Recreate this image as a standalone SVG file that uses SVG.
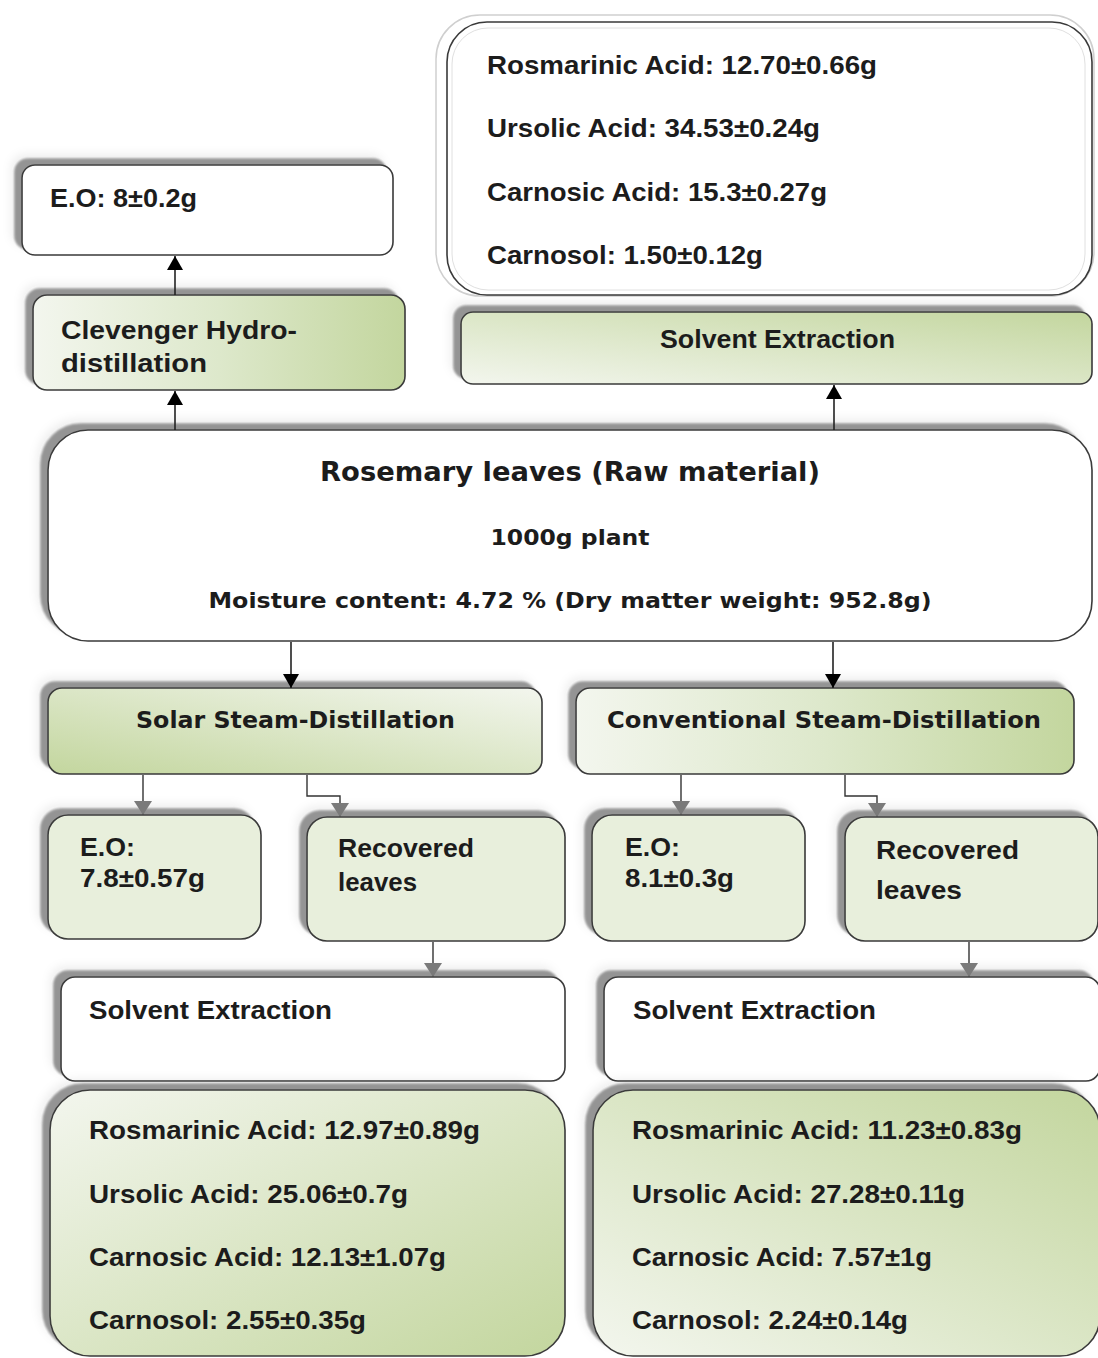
<svg xmlns="http://www.w3.org/2000/svg" width="1098" height="1358" viewBox="0 0 1098 1358">
<style>
.box{stroke:#3a3a3a;stroke-width:1.6}
.c{font-family:"Liberation Sans",Arial,sans-serif;font-weight:bold;font-size:25px;fill:#1c1c1c}
.v{font-family:"DejaVu Sans",Verdana,sans-serif;font-weight:bold;fill:#1c1c1c}
.ln{fill:none;stroke:#222;stroke-width:1.6}
.lg{fill:none;stroke:#333;stroke-width:1.4}
</style>
<defs>
<filter id="sh" x="-10%" y="-25%" width="125%" height="150%">
<feGaussianBlur in="SourceAlpha" stdDeviation="5" result="b1"/>
<feOffset in="b1" dx="-10" dy="-10" result="o1"/>
<feFlood flood-color="#000" flood-opacity="0.07"/>
<feComposite in2="o1" operator="in" result="halo"/>
<feGaussianBlur in="SourceAlpha" stdDeviation="1.2" result="b2"/>
<feOffset in="b2" dx="-7" dy="-6" result="o2"/>
<feFlood flood-color="#8a8a8a" flood-opacity="0.9"/>
<feComposite in2="o2" operator="in" result="dark"/>
<feMerge><feMergeNode in="halo"/><feMergeNode in="dark"/><feMergeNode in="SourceGraphic"/></feMerge>
</filter>
<linearGradient id="gH" x1="0" y1="0" x2="1" y2="0">
<stop offset="0" stop-color="#f3f6ee"/><stop offset="0.5" stop-color="#dde8cb"/><stop offset="1" stop-color="#c3d69e"/>
</linearGradient>
<linearGradient id="gLB" x1="0" y1="1" x2="1" y2="0">
<stop offset="0" stop-color="#f3f6ee"/><stop offset="1" stop-color="#c3d69e"/>
</linearGradient>
<linearGradient id="gGB" x1="0" y1="1" x2="1" y2="0">
<stop offset="0" stop-color="#c3d69e"/><stop offset="1" stop-color="#f3f6ee"/>
</linearGradient>
<linearGradient id="gTL" x1="0" y1="0" x2="1" y2="1">
<stop offset="0" stop-color="#f3f6ee"/><stop offset="1" stop-color="#c3d69e"/>
</linearGradient>
<marker id="aB" markerUnits="userSpaceOnUse" markerWidth="16" markerHeight="16" refX="14" refY="8" orient="auto">
<path d="M0,0 L14,8 L0,16 z" fill="#000"/>
</marker>
<marker id="aG" markerUnits="userSpaceOnUse" markerWidth="15" markerHeight="18" refX="14" refY="9" orient="auto">
<path d="M0,0 L14,9 L0,18 z" fill="#7a7a7a"/>
</marker>
</defs>
<rect width="1098" height="1358" fill="#fff"/>

<g id="eo-clevenger">
<rect class="box" x="22" y="165" width="371" height="90" rx="13" fill="#fff" filter="url(#sh)"/>
<text class="c" x="50" y="207" textLength="147" lengthAdjust="spacingAndGlyphs">E.O: 8±0.2g</text>
</g>

<g id="clevenger">
<rect class="box" x="33" y="295" width="372" height="95" rx="14" fill="url(#gH)" filter="url(#sh)"/>
<text class="c" x="61" y="339" textLength="236" lengthAdjust="spacingAndGlyphs">Clevenger Hydro-</text>
<text class="c" x="61" y="372" textLength="146" lengthAdjust="spacingAndGlyphs">distillation</text>
</g>

<g id="results-top">
<rect x="436" y="15" width="658" height="281" rx="44" fill="#fff" stroke="#cfcfcf" stroke-width="1.5"/>
<rect class="box" x="447" y="22" width="645" height="273" rx="40" fill="#fff"/>
<rect x="452" y="28" width="633" height="262" rx="36" fill="none" stroke="#e0e0e0" stroke-width="1"/>
<text class="c" x="487" y="74" textLength="390" lengthAdjust="spacingAndGlyphs">Rosmarinic Acid: 12.70±0.66g</text>
<text class="c" x="487" y="137" textLength="333" lengthAdjust="spacingAndGlyphs">Ursolic Acid: 34.53±0.24g</text>
<text class="c" x="487" y="201" textLength="340" lengthAdjust="spacingAndGlyphs">Carnosic Acid: 15.3±0.27g</text>
<text class="c" x="487" y="264" textLength="276" lengthAdjust="spacingAndGlyphs">Carnosol: 1.50±0.12g</text>
</g>

<g id="solvent-top">
<rect class="box" x="461" y="312" width="631" height="72" rx="12" fill="url(#gLB)" filter="url(#sh)"/>
<text class="c" x="660" y="348" textLength="235" lengthAdjust="spacingAndGlyphs">Solvent Extraction</text>
</g>

<g id="raw">
<rect class="box" x="48" y="430" width="1044" height="211" rx="40" fill="#fff" filter="url(#sh)"/>
<text class="v" x="570" y="481" font-size="26" text-anchor="middle" textLength="500" lengthAdjust="spacingAndGlyphs">Rosemary leaves (Raw material)</text>
<text class="v" x="570" y="545" font-size="22" text-anchor="middle" textLength="159" lengthAdjust="spacingAndGlyphs">1000g plant</text>
<text class="v" x="570" y="608" font-size="22" text-anchor="middle" textLength="723" lengthAdjust="spacingAndGlyphs">Moisture content: 4.72 % (Dry matter weight: 952.8g)</text>
</g>

<g id="solar">
<rect class="box" x="48" y="688" width="494" height="86" rx="14" fill="url(#gGB)" filter="url(#sh)"/>
<text class="v" x="136" y="728" font-size="23" textLength="319" lengthAdjust="spacingAndGlyphs">Solar Steam-Distillation</text>
</g>

<g id="conventional">
<rect class="box" x="576" y="688" width="498" height="86" rx="14" fill="url(#gH)" filter="url(#sh)"/>
<text class="v" x="607" y="728" font-size="23" textLength="434" lengthAdjust="spacingAndGlyphs">Conventional Steam-Distillation</text>
</g>

<g id="eo-solar">
<rect class="box" x="48" y="815" width="213" height="124" rx="20" fill="#e8efdc" filter="url(#sh)"/>
<text class="c" x="80" y="856" textLength="55" lengthAdjust="spacingAndGlyphs">E.O:</text>
<text class="c" x="80" y="887" textLength="125" lengthAdjust="spacingAndGlyphs">7.8±0.57g</text>
</g>

<g id="leaves-solar">
<rect class="box" x="307" y="817" width="258" height="124" rx="20" fill="#e8efdc" filter="url(#sh)"/>
<text class="c" x="338" y="857" textLength="136" lengthAdjust="spacingAndGlyphs">Recovered</text>
<text class="c" x="338" y="891" textLength="79" lengthAdjust="spacingAndGlyphs">leaves</text>
</g>

<g id="eo-conv">
<rect class="box" x="592" y="815" width="213" height="126" rx="20" fill="#e8efdc" filter="url(#sh)"/>
<text class="c" x="625" y="856" textLength="55" lengthAdjust="spacingAndGlyphs">E.O:</text>
<text class="c" x="625" y="887" textLength="109" lengthAdjust="spacingAndGlyphs">8.1±0.3g</text>
</g>

<g id="leaves-conv">
<rect class="box" x="845" y="817" width="253" height="124" rx="20" fill="#e8efdc" filter="url(#sh)"/>
<text class="c" x="876" y="859" textLength="143" lengthAdjust="spacingAndGlyphs">Recovered</text>
<text class="c" x="876" y="899" textLength="86" lengthAdjust="spacingAndGlyphs">leaves</text>
</g>

<g id="solvent-solar">
<rect class="box" x="61" y="977" width="504" height="104" rx="14" fill="#fff" filter="url(#sh)"/>
<text class="c" x="89" y="1019" textLength="243" lengthAdjust="spacingAndGlyphs">Solvent Extraction</text>
</g>

<g id="solvent-conv">
<rect class="box" x="604" y="977" width="496" height="104" rx="14" fill="#fff" filter="url(#sh)"/>
<text class="c" x="633" y="1019" textLength="243" lengthAdjust="spacingAndGlyphs">Solvent Extraction</text>
</g>

<g id="results-solar">
<rect class="box" x="50" y="1090" width="515" height="266" rx="40" fill="url(#gTL)" filter="url(#sh)"/>
<text class="c" x="89" y="1139" textLength="391" lengthAdjust="spacingAndGlyphs">Rosmarinic Acid: 12.97±0.89g</text>
<text class="c" x="89" y="1203" textLength="319" lengthAdjust="spacingAndGlyphs">Ursolic Acid: 25.06±0.7g</text>
<text class="c" x="89" y="1266" textLength="357" lengthAdjust="spacingAndGlyphs">Carnosic Acid: 12.13±1.07g</text>
<text class="c" x="89" y="1329" textLength="277" lengthAdjust="spacingAndGlyphs">Carnosol: 2.55±0.35g</text>
</g>

<g id="results-conv">
<rect class="box" x="593" y="1090" width="507" height="266" rx="40" fill="url(#gLB)" filter="url(#sh)"/>
<text class="c" x="632" y="1139" textLength="390" lengthAdjust="spacingAndGlyphs">Rosmarinic Acid: 11.23±0.83g</text>
<text class="c" x="632" y="1203" textLength="333" lengthAdjust="spacingAndGlyphs">Ursolic Acid: 27.28±0.11g</text>
<text class="c" x="632" y="1266" textLength="300" lengthAdjust="spacingAndGlyphs">Carnosic Acid: 7.57±1g</text>
<text class="c" x="632" y="1329" textLength="276" lengthAdjust="spacingAndGlyphs">Carnosol: 2.24±0.14g</text>
</g>

<g id="connectors">
<path class="ln" d="M175,430 V391" marker-end="url(#aB)"/>
<path class="ln" d="M175,295 V256" marker-end="url(#aB)"/>
<path class="ln" d="M834,430 V385" marker-end="url(#aB)"/>
<path class="ln" d="M291,642 V688" marker-end="url(#aB)"/>
<path class="ln" d="M833,642 V688" marker-end="url(#aB)"/>
<path class="lg" d="M143,775 V815" marker-end="url(#aG)"/>
<path class="lg" d="M307,775 V796 H340 V817" marker-end="url(#aG)"/>
<path class="lg" d="M681,775 V815" marker-end="url(#aG)"/>
<path class="lg" d="M845,775 V796 H877 V817" marker-end="url(#aG)"/>
<path class="lg" d="M433,942 V977" marker-end="url(#aG)"/>
<path class="lg" d="M969,942 V977" marker-end="url(#aG)"/>
</g>
</svg>
